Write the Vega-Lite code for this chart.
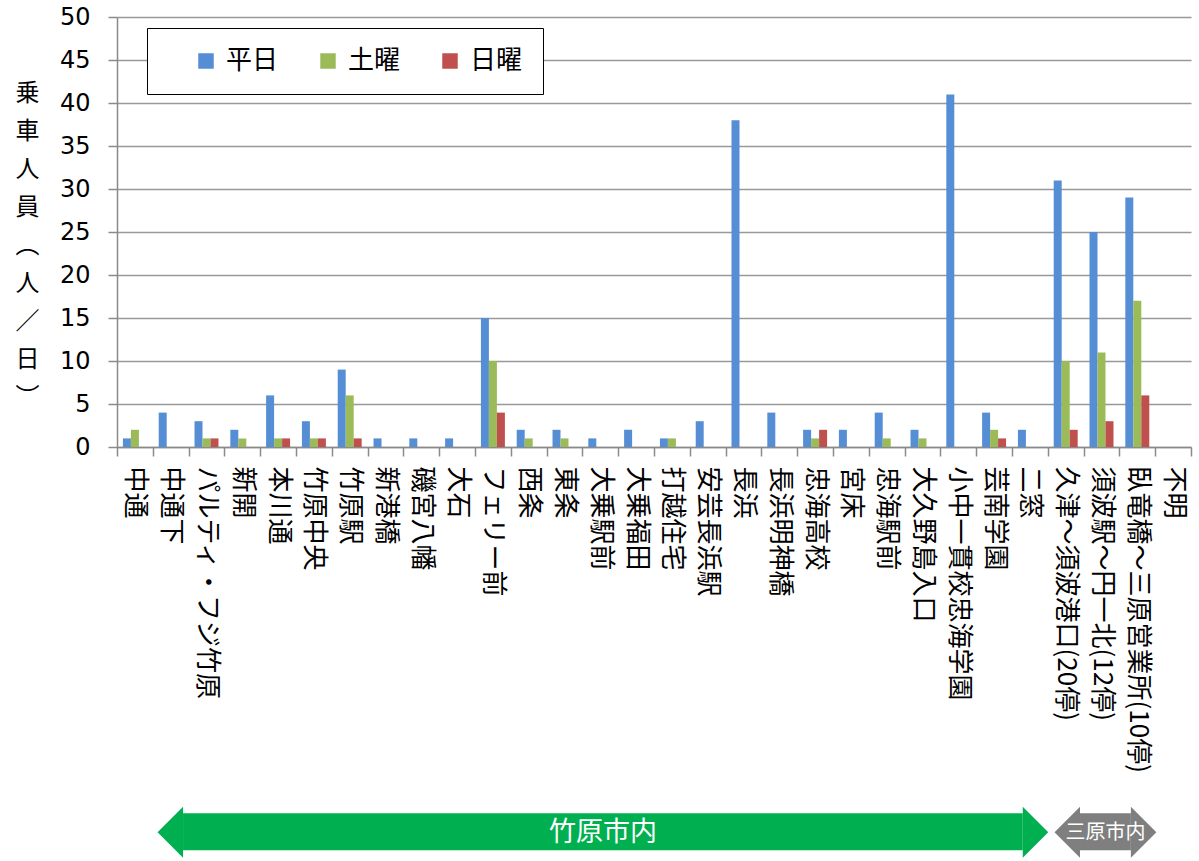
{
  "$schema": "https://vega.github.io/schema/vega-lite/v6.json",
  "width": 1074,
  "height": 430,
  "autosize": {"type": "none"},
  "padding": {"left": 117, "top": 17, "right": 8, "bottom": 414},
  "background": "white",
  "config": {"view": {"stroke": null}, "font": "Noto Sans CJK JP"},
  "layer": [
    {
      "data": {"values": [
        {"stop":"中通","type":"平日","value":1},{"stop":"中通","type":"土曜","value":2},{"stop":"中通","type":"日曜","value":0},
        {"stop":"中通下","type":"平日","value":4},{"stop":"中通下","type":"土曜","value":0},{"stop":"中通下","type":"日曜","value":0},
        {"stop":"パルティ・フジ竹原","type":"平日","value":3},{"stop":"パルティ・フジ竹原","type":"土曜","value":1},{"stop":"パルティ・フジ竹原","type":"日曜","value":1},
        {"stop":"新開","type":"平日","value":2},{"stop":"新開","type":"土曜","value":1},{"stop":"新開","type":"日曜","value":0},
        {"stop":"本川通","type":"平日","value":6},{"stop":"本川通","type":"土曜","value":1},{"stop":"本川通","type":"日曜","value":1},
        {"stop":"竹原中央","type":"平日","value":3},{"stop":"竹原中央","type":"土曜","value":1},{"stop":"竹原中央","type":"日曜","value":1},
        {"stop":"竹原駅","type":"平日","value":9},{"stop":"竹原駅","type":"土曜","value":6},{"stop":"竹原駅","type":"日曜","value":1},
        {"stop":"新港橋","type":"平日","value":1},{"stop":"新港橋","type":"土曜","value":0},{"stop":"新港橋","type":"日曜","value":0},
        {"stop":"磯宮八幡","type":"平日","value":1},{"stop":"磯宮八幡","type":"土曜","value":0},{"stop":"磯宮八幡","type":"日曜","value":0},
        {"stop":"大石","type":"平日","value":1},{"stop":"大石","type":"土曜","value":0},{"stop":"大石","type":"日曜","value":0},
        {"stop":"フェリー前","type":"平日","value":15},{"stop":"フェリー前","type":"土曜","value":10},{"stop":"フェリー前","type":"日曜","value":4},
        {"stop":"西条","type":"平日","value":2},{"stop":"西条","type":"土曜","value":1},{"stop":"西条","type":"日曜","value":0},
        {"stop":"東条","type":"平日","value":2},{"stop":"東条","type":"土曜","value":1},{"stop":"東条","type":"日曜","value":0},
        {"stop":"大乗駅前","type":"平日","value":1},{"stop":"大乗駅前","type":"土曜","value":0},{"stop":"大乗駅前","type":"日曜","value":0},
        {"stop":"大乗福田","type":"平日","value":2},{"stop":"大乗福田","type":"土曜","value":0},{"stop":"大乗福田","type":"日曜","value":0},
        {"stop":"打越住宅","type":"平日","value":1},{"stop":"打越住宅","type":"土曜","value":1},{"stop":"打越住宅","type":"日曜","value":0},
        {"stop":"安芸長浜駅","type":"平日","value":3},{"stop":"安芸長浜駅","type":"土曜","value":0},{"stop":"安芸長浜駅","type":"日曜","value":0},
        {"stop":"長浜","type":"平日","value":38},{"stop":"長浜","type":"土曜","value":0},{"stop":"長浜","type":"日曜","value":0},
        {"stop":"長浜明神橋","type":"平日","value":4},{"stop":"長浜明神橋","type":"土曜","value":0},{"stop":"長浜明神橋","type":"日曜","value":0},
        {"stop":"忠海高校","type":"平日","value":2},{"stop":"忠海高校","type":"土曜","value":1},{"stop":"忠海高校","type":"日曜","value":2},
        {"stop":"宮床","type":"平日","value":2},{"stop":"宮床","type":"土曜","value":0},{"stop":"宮床","type":"日曜","value":0},
        {"stop":"忠海駅前","type":"平日","value":4},{"stop":"忠海駅前","type":"土曜","value":1},{"stop":"忠海駅前","type":"日曜","value":0},
        {"stop":"大久野島入口","type":"平日","value":2},{"stop":"大久野島入口","type":"土曜","value":1},{"stop":"大久野島入口","type":"日曜","value":0},
        {"stop":"小中一貫校忠海学園","type":"平日","value":41},{"stop":"小中一貫校忠海学園","type":"土曜","value":0},{"stop":"小中一貫校忠海学園","type":"日曜","value":0},
        {"stop":"芸南学園","type":"平日","value":4},{"stop":"芸南学園","type":"土曜","value":2},{"stop":"芸南学園","type":"日曜","value":1},
        {"stop":"二窓","type":"平日","value":2},{"stop":"二窓","type":"土曜","value":0},{"stop":"二窓","type":"日曜","value":0},
        {"stop":"久津～須波港口(20停)","type":"平日","value":31},{"stop":"久津～須波港口(20停)","type":"土曜","value":10},{"stop":"久津～須波港口(20停)","type":"日曜","value":2},
        {"stop":"須波駅～円一北(12停)","type":"平日","value":25},{"stop":"須波駅～円一北(12停)","type":"土曜","value":11},{"stop":"須波駅～円一北(12停)","type":"日曜","value":3},
        {"stop":"臥竜橋～三原営業所(10停)","type":"平日","value":29},{"stop":"臥竜橋～三原営業所(10停)","type":"土曜","value":17},{"stop":"臥竜橋～三原営業所(10停)","type":"日曜","value":6},
        {"stop":"不明","type":"平日","value":0},{"stop":"不明","type":"土曜","value":0},{"stop":"不明","type":"日曜","value":0}
      ]},
      "mark": {"type": "bar"},
      "encoding": {
        "x": {
          "field": "stop", "type": "nominal", "sort": null,
          "scale": {"paddingInner": 0, "paddingOuter": 0},
          "axis": {
            "title": null, "labelAngle": 90, "labelFont": "Noto Sans CJK JP", "labelFontSize": 26,
            "labelColor": "#000000", "labelPadding": 10, "labelLimit": 400, "tickSize": 9,
            "tickBand": "extent", "tickColor": "#8a8a8a", "tickWidth": 1.5, "domainColor": "#8a8a8a",
            "domainWidth": 1.5, "grid": false, "labelOverlap": false
          }
        },
        "xOffset": {
          "field": "type", "type": "nominal", "sort": ["平日", "土曜", "日曜"],
          "scale": {"paddingInner": 0, "paddingOuter": 0.74}
        },
        "y": {
          "field": "value", "type": "quantitative",
          "scale": {"domain": [0, 50], "nice": false},
          "axis": {
            "values": [0, 5, 10, 15, 20, 25, 30, 35, 40, 45, 50],
            "title": ["乗", "車", "人", "員", "︵", "人", "／", "日", "︶"],
            "titleAngle": 0, "titleAlign": "center", "titleBaseline": "top",
            "titleX": -90, "titleY": 64, "titleFontSize": 24, "titleFontWeight": "normal",
            "titleLineHeight": 38, "titleFont": "Noto Sans CJK JP", "titleColor": "#000000",
            "labelFont": "DejaVu Sans", "labelFontSize": 24, "labelColor": "#000000",
            "labelPadding": 18, "tickSize": 9, "tickColor": "#8a8a8a", "tickWidth": 1.5,
            "domainColor": "#8a8a8a", "domainWidth": 1.5,
            "grid": true, "gridColor": "#999999", "gridWidth": 1.5
          }
        },
        "color": {
          "field": "type", "type": "nominal",
          "scale": {"domain": ["平日", "土曜", "日曜"], "range": ["#558ED5", "#9BBB59", "#C0504D"]},
          "legend": {
            "title": null, "orient": "none", "legendX": 30, "legendY": 11, "direction": "horizontal",
            "columns": 3, "symbolType": "square", "symbolSize": 240, "symbolStrokeWidth": 0,
            "labelFont": "Noto Sans CJK JP", "labelFontSize": 26, "labelColor": "#000000",
            "labelOffset": 7, "columnPadding": 10, "padding": 20, "symbolOffset": 26,
            "strokeColor": "#000000", "fillColor": "#ffffff"
          }
        }
      }
    },
    {
      "data": {"values": [
        {"region": "竹原市内", "from": 1.845, "to": 25.30},
        {"region": "三原市内", "from": 26.9, "to": 28.32}
      ]},
      "layer": [
        {
          "mark": {"type": "rect"},
          "encoding": {
            "x": {"field": "from", "type": "quantitative", "scale": {"domain": [0, 30], "nice": false, "zero": false}, "axis": null},
            "x2": {"field": "to"},
            "y": {"datum": -42.6, "type": "quantitative", "scale": {"domain": [0, 50], "nice": false}, "axis": null},
            "y2": {"datum": -46.9},
            "color": {"condition": {"test": "datum.region === '竹原市内'", "value": "#00B050"}, "value": "#7F7F7F"}
          }
        },
        {
          "mark": {"type": "point", "filled": true, "shape": "M0,-1L-1,0L0,1Z", "size": 2601, "opacity": 1, "strokeWidth": 0},
          "encoding": {
            "x": {"field": "from", "type": "quantitative", "axis": null},
            "y": {"datum": -44.8, "type": "quantitative", "axis": null},
            "color": {"condition": {"test": "datum.region === '竹原市内'", "value": "#00B050"}, "value": "#7F7F7F"}
          }
        },
        {
          "mark": {"type": "point", "filled": true, "shape": "M0,-1L1,0L0,1Z", "size": 2601, "opacity": 1, "strokeWidth": 0},
          "encoding": {
            "x": {"field": "to", "type": "quantitative", "axis": null},
            "y": {"datum": -44.8, "type": "quantitative", "axis": null},
            "color": {"condition": {"test": "datum.region === '竹原市内'", "value": "#00B050"}, "value": "#7F7F7F"}
          }
        },
        {
          "transform": [
            {"fold": ["from", "to"], "as": ["end", "pos"]},
            {"aggregate": [{"op": "mean", "field": "pos", "as": "mid"}], "groupby": ["region"]}
          ],
          "mark": {"type": "text", "color": "#ffffff", "baseline": "middle", "align": "center", "font": "Noto Sans CJK JP"},
          "encoding": {
            "x": {"field": "mid", "type": "quantitative", "axis": null},
            "y": {"datum": -44.9, "type": "quantitative", "axis": null},
            "text": {"field": "region"},
            "size": {"condition": {"test": "datum.region === '竹原市内'", "value": 27}, "value": 20}
          }
        }
      ]
    }
  ],
  "resolve": {"scale": {"x": "independent", "y": "independent"}}
}
